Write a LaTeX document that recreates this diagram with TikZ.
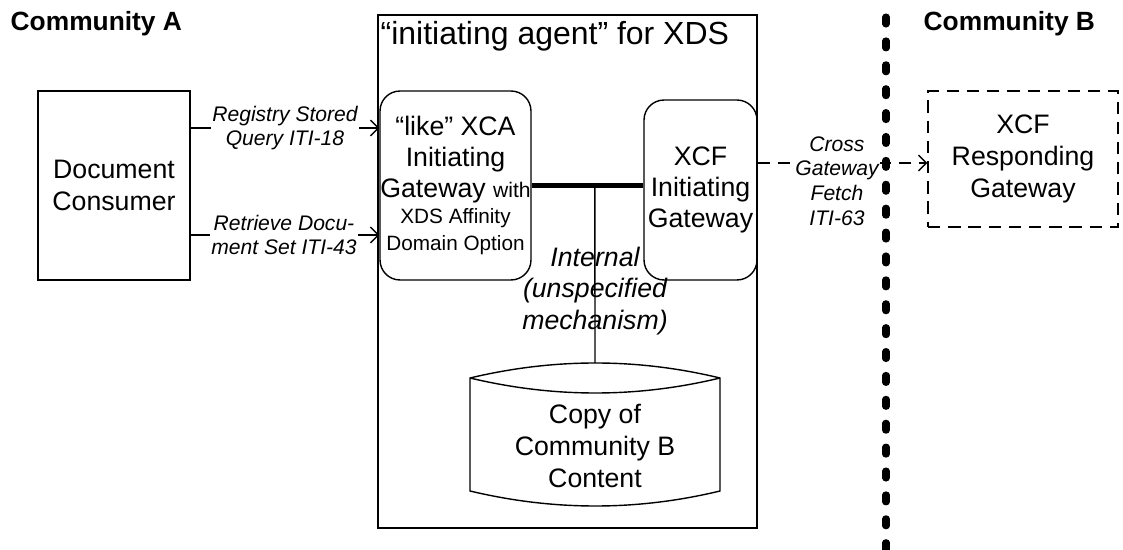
\documentclass[tikz,border=0pt]{standalone}
\usepackage{fontspec}
\setmainfont{Liberation Sans}
\usetikzlibrary{arrows.meta}
\begin{document}
\begin{tikzpicture}[x=0.02cm,y=-0.02cm,line width=0.8pt,
  big/.style={font=\fontsize{15.2}{18}\selectfont},
  lbl/.style={font=\itshape\fontsize{12}{14}\selectfont,align=center,fill=white,inner sep=1pt},
  boxx/.style={draw,inner sep=0pt,align=center,big},
  rbox/.style={boxx,rounded corners=0.4cm},
  dsh/.style={dash pattern=on 7pt off 4.5pt},
  arr/.style={-{Straight Barb[length=4.5pt,width=9pt]}},
  comm/.style={font=\bfseries\fontsize{15}{18}\selectfont,anchor=base west,inner sep=0pt}]
\useasboundingbox (0,0) rectangle (1123,550);

% outer agent box and title
\node[draw,minimum width=7.58cm,minimum height=10.26cm,inner sep=0pt] (agent) at (567.5,271.5) {};
\node[anchor=base west,inner sep=0pt,font=\fontsize{18.2}{21}\selectfont] (title) at (380,45) {“initiating agent” for XDS};

\node[comm] (ca) at (10,31) {Community A};
\node[comm] (cb) at (923,31) {Community B};

% actors
\node[boxx,minimum width=3.04cm,minimum height=3.78cm] (consumer) at (114,185.5) {Document\\Consumer};
\node[rbox,minimum width=3.02cm,minimum height=3.78cm] (likegw) at (455.5,185.5)
  {“like” XCA\\[-0.5pt]Initiating\\[-0.5pt]Gateway {\fontsize{12}{14}\selectfont with}\\[-3pt]{\fontsize{11.8}{13.6}\selectfont XDS Affinity}\\[-3pt]{\fontsize{11.8}{13.6}\selectfont Domain Option}};
\node[rbox,minimum width=2.26cm,minimum height=3.6cm] (xcfinit) at (700.5,190) {XCF\\[-0.5pt]Initiating\\[-0.5pt]Gateway};
\node[boxx,dsh,minimum width=3.8cm,minimum height=2.72cm] (xcfresp) at (1023,159) {XCF\\[0.5pt]Responding\\Gateway};

% cylinder (stored data)
\draw (470,378) .. controls (554,358) and (637,358) .. (720,378) -- (720,491)
  .. controls (637,511) and (554,511) .. (470,491) -- cycle;
\draw (470,378) .. controls (554,398) and (637,398) .. (720,378);
\coordinate (cyltop) at (595,363);
\node[align=center,big,inner sep=0pt] (cyl) at (595,446) {Copy of\\Community B\\Content};

% internal connection
\draw[line width=2.8pt] (likegw.east) -- (likegw.east -| xcfinit.west) coordinate[pos=0.566] (tj);
\draw (tj) -- (cyltop);
\node[align=center,inner sep=0pt,font=\itshape\fontsize{15.2}{18}\selectfont] (internal) at (595,291) {Internal\\(unspecified\\mechanism)};

% transactions from consumer
\draw[arr] ([yshift=1.15cm]consumer.east) -- ([yshift=1.15cm]consumer.east -| likegw.west);
\node[lbl] (t18) at (285,128) {Registry Stored\\Query ITI-18};
\draw[arr] ([yshift=-0.99cm]consumer.east) -- ([yshift=-0.99cm]consumer.east -| likegw.west);
\node[lbl] (t43) at (284,235) {Retrieve Docu-\\ment Set ITI-43};

% cross gateway fetch
\draw[arr,dsh] ([yshift=0.54cm]xcfinit.east) -- ([yshift=0.54cm]xcfinit.east -| xcfresp.west);
\node[lbl] (t63) at (837,181) {Cross\\Gateway\\Fetch\\ITI-63};

% community divider
\coordinate (divtop) at (886,17);
\coordinate (divbot) at (886,552);
\draw[line width=4pt,line cap=round,dash pattern=on 4pt off 9.6pt] (divtop) -- (divbot);
\end{tikzpicture}
\end{document}
